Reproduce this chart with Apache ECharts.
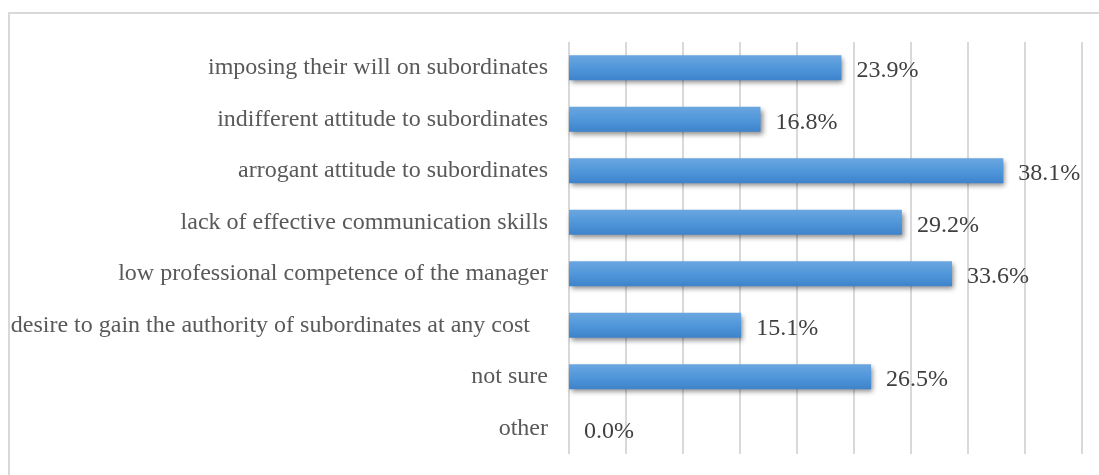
<!DOCTYPE html>
<html>
<head>
<meta charset="utf-8">
<script src="https://cdn.jsdelivr.net/npm/echarts@6/dist/echarts.min.js"></script>
<style>
html,body{margin:0;padding:0;background:#fff;}
#chart{width:1099px;height:475px;}
</style>
</head>
<body>
<div id="chart"></div>
<script>
var categories = [
  "imposing their will on subordinates",
  "indifferent attitude to subordinates",
  "arrogant attitude to subordinates",
  "lack of effective communication skills",
  "low professional competence of the manager",
  "desire to gain the authority of subordinates at any cost   ",
  "not sure",
  "other"
];
var values = [23.9, 16.8, 38.1, 29.2, 33.6, 15.1, 26.5, 0.0];

var chart = echarts.init(document.getElementById('chart'));
chart.setOption({
  animation: false,
  backgroundColor: '#ffffff',
  graphic: [{
    type: 'rect',
    shape: { x: 9, y: 13, width: 1200, height: 600 },
    style: { fill: 'none', stroke: '#d9d9d9', lineWidth: 2 },
    silent: true,
    z: -1
  }],
  grid: { left: 569, right: 17, top: 42, bottom: 21, containLabel: false },
  xAxis: {
    type: 'value',
    min: 0, max: 45, interval: 5,
    axisLabel: { show: false },
    axisLine: { show: false },
    axisTick: { show: false },
    splitLine: { show: true, lineStyle: { color: '#d9d9d9', width: 2 } }
  },
  yAxis: {
    type: 'category',
    inverse: true,
    data: categories,
    axisLine: { show: false },
    axisTick: { show: false },
    axisLabel: {
      margin: 21,
      fontFamily: 'Liberation Serif, Times New Roman, serif',
      fontSize: 24,
      color: '#595959',
      padding: [6, 0, 0, 0]
    }
  },
  series: [{
    type: 'bar',
    data: values,
    barWidth: 25,
    itemStyle: {
      color: new echarts.graphic.LinearGradient(0, 0, 0, 1, [
        { offset: 0, color: '#6ba6e0' },
        { offset: 0.5, color: '#5097da' },
        { offset: 1, color: '#3e83cb' }
      ]),
      shadowColor: 'rgba(0,0,0,0.45)',
      shadowBlur: 5,
      shadowOffsetX: 2,
      shadowOffsetY: 3
    },
    label: {
      show: true,
      position: 'right',
      distance: 15,
      offset: [0, 3],
      formatter: function (p) { return p.value.toFixed(1) + '%'; },
      fontFamily: 'Liberation Serif, Times New Roman, serif',
      fontSize: 24,
      color: '#404040'
    }
  }]
});
</script>
</body>
</html>
